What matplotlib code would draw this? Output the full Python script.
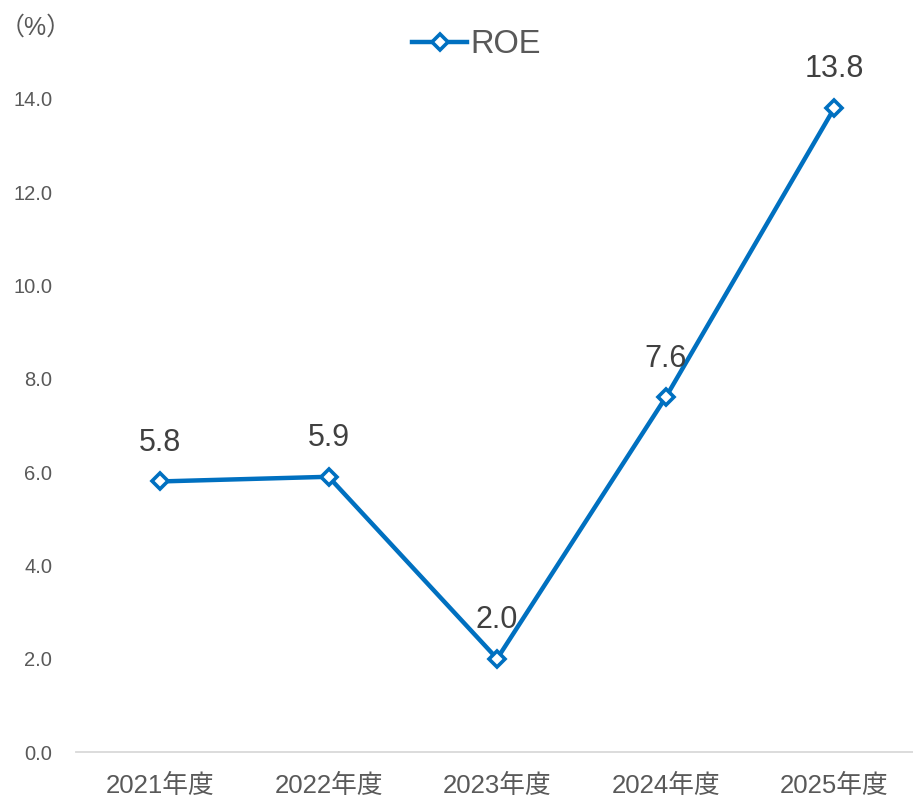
import matplotlib
matplotlib.use("Agg")
import matplotlib.pyplot as plt
from matplotlib.ticker import MultipleLocator, FormatStrFormatter

plt.rcParams['font.family'] = ['Liberation Sans', 'Noto Sans CJK JP', 'DejaVu Sans']

categories = ["2021年度", "2022年度", "2023年度", "2024年度", "2025年度"]
roe = [5.8, 5.9, 2.0, 7.6, 13.8]
labels = ["5.8", "5.9", "2.0", "7.6", "13.8"]

blue = "#0070C0"
grey = "#595959"

fig = plt.figure(figsize=(9.13, 7.99), dpi=100)
ax = fig.add_axes([0.083, 0.0588, 0.923, 0.8174])
x = list(range(len(categories)))
line, = ax.plot(x, roe, color=blue, lw=3.2, marker="D", markersize=8.5,
                markerfacecolor="white", markeredgecolor=blue, markeredgewidth=2.6,
                label="ROE", clip_on=False, zorder=3)
for xi, v, t in zip(x, roe, labels):
    ax.annotate(t, (xi, v), xytext=(0, 28), textcoords="offset points",
                ha="center", va="center", fontsize=22, color="#404040",
                annotation_clip=False)

ax.set_xlim(-0.5, 4.5)
ax.set_ylim(0, 14)
ax.yaxis.set_major_locator(MultipleLocator(2))
ax.yaxis.set_major_formatter(FormatStrFormatter("%.1f"))
ax.set_xticks(x)
ax.set_xticklabels(categories, fontsize=18.5, color=grey)
ax.tick_params(axis="y", labelsize=14.5, labelcolor=grey, length=0, pad=17)
ax.tick_params(axis="x", length=0, pad=16)
for s in ["top", "right", "left"]:
    ax.spines[s].set_visible(False)
ax.spines["bottom"].set_color("#D9D9D9")
ax.spines["bottom"].set_linewidth(1.3)

fig.text(0.0, 0.965, "（%）", fontsize=18, color=grey, ha="left", va="center")

leg = fig.legend(handles=[line], loc="center", bbox_to_anchor=(0.522, 0.944),
                 frameon=False, fontsize=23.5, handlelength=1.7, handletextpad=0.1,
                 labelcolor=grey)

fig.savefig("out.png", dpi=100)
